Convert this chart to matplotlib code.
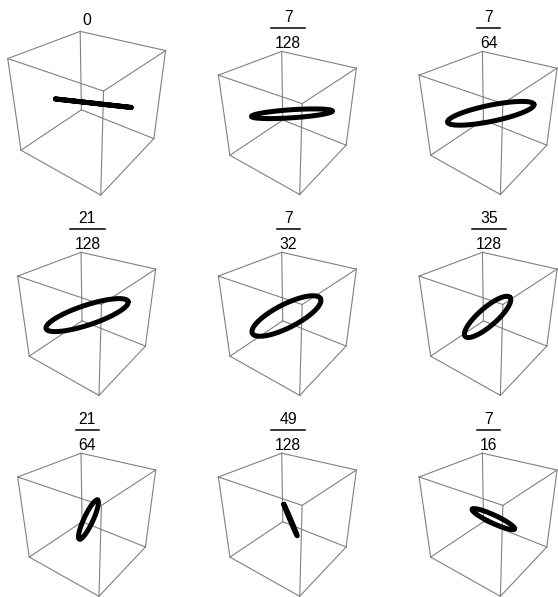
import numpy as np
import matplotlib.pyplot as plt
from matplotlib.lines import Line2D

plt.rcParams['font.family'] = ['Liberation Sans', 'DejaVu Sans']

# panel titles (t as a fraction)
numer = ['0', '7', '7', '21', '7', '35', '21', '49', '7']
denom = ['', '128', '64', '128', '32', '128', '64', '128', '16']

# orbit ellipse in each panel, seen face-on from the camera:
# semi-axes in box units (box is [-1, 1]^3), tilt on screen in degrees,
# and the shift of its centre across the screen (right, up)
semi_major = [0.74, 0.90, 0.98, 0.96, 0.85, 0.66, 0.48, 0.38, 0.52]
semi_minor = [0.0, 0.09, 0.18, 0.22, 0.26, 0.20, 0.10, 0.01, 0.09]
tilt = [-6.4, 3.8, 11.6, 18.3, 27.0, 41.0, 65.0, 113.0, 155.0]
shift_x = [0.08, 0.05, 0.01, -0.04, -0.07, -0.06, -0.01, 0.02, 0.07]
shift_y = [0.0, 0.01, 0.02, 0.0, -0.02, -0.04, -0.08, -0.09, -0.07]

ELEV, AZIM, FOCAL = 30, -53, 0.32
W, H = 558, 597

fig = plt.figure(figsize=(W / 100, H / 100), dpi=100)

corners = np.array([[x, y, z] for x in (-1, 1) for y in (-1, 1) for z in (-1, 1)])
edges = [(i, j) for i in range(8) for j in range(i + 1, 8)
         if np.sum(corners[i] != corners[j]) == 1]

el, az = np.radians(ELEV), np.radians(AZIM)
right = np.array([-np.sin(az), np.cos(az), 0.0])
up = np.array([-np.sin(el) * np.cos(az), -np.sin(el) * np.sin(az), np.cos(el)])
s = np.linspace(0, 2 * np.pi, 300)

for k in range(9):
    row, col = divmod(k, 3)
    # box centre on the page (px from top-left) and pixels per view unit
    if k == 0:
        cx, cy, scale = 89.2, 103.2, 935.6
    else:
        cx, cy, scale = 88.9 + 200.7 * col, 114.2 + 200.9 * row, 818.0
    size = 0.185 * scale
    off = 0.095 * scale
    ax = fig.add_axes([(cx - off) / W, (H - cy - off) / H, size / W, size / H],
                      projection='3d', computed_zorder=False)
    ax.patch.set_visible(False)
    ax.set_xlim(-1, 1)
    ax.set_ylim(-1, 1)
    ax.set_zlim(-1, 1)
    ax.set_box_aspect((1, 1, 1))
    ax.set_proj_type('persp', focal_length=FOCAL)
    ax.view_init(elev=ELEV, azim=AZIM)
    ax.set_axis_off()

    for i, j in edges:
        ax.plot(*corners[[i, j]].T, color='#808080', lw=0.8, zorder=1,
                clip_on=False)

    th = np.radians(tilt[k])
    d1 = np.cos(th) * right + np.sin(th) * up
    d2 = -np.sin(th) * right + np.cos(th) * up
    centre = shift_x[k] * right + shift_y[k] * up
    pts = (centre + semi_major[k] * np.cos(s)[:, None] * d1
           + semi_minor[k] * np.sin(s)[:, None] * d2)
    ax.plot(pts[:, 0], pts[:, 1], pts[:, 2], color='black', lw=3.6,
            solid_capstyle='round', zorder=3, clip_on=False)

    # title
    tx = cx - 1.5
    if denom[k]:
        fig.text(tx / W, 1 - (21.7 + 200.9 * row) / H, numer[k], ha='center',
                 va='baseline', fontsize=11.3)
        fig.text(tx / W, 1 - (48.3 + 200.9 * row) / H, denom[k], ha='center',
                 va='baseline', fontsize=11.3)
        half = 5.7 * max(len(numer[k]), len(denom[k]))
        yb = 1 - (27.7 + 200.9 * row) / H
        fig.add_artist(Line2D([(tx - half) / W, (tx + half) / W], [yb, yb],
                              color='black', lw=1.1))
    else:
        fig.text(86.7 / W, 1 - 25.3 / H, numer[k], ha='center',
                 va='baseline', fontsize=11.3)

fig.savefig('out.png', dpi=100)
